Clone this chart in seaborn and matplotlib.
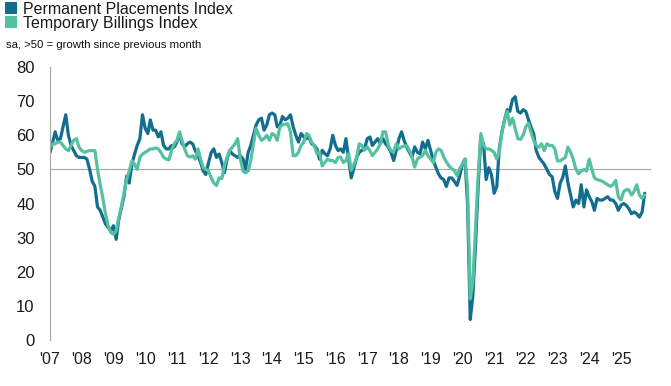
import numpy as np
import pandas as pd
import seaborn as sns
import matplotlib.pyplot as plt
import matplotlib.dates as mdates
from matplotlib.patches import Patch

# monthly index values, Jan 2007 onwards
perm = [
    55, 58, 61, 58.5, 59, 62.5, 66, 60, 57, 55.5, 54, 53.5,            # 2007
    53.5, 53.5, 53, 50, 46.5, 45, 39, 38, 36, 34, 33, 32,              # 2008
    33.5, 29.5, 35, 38.5, 42, 48, 46, 51.5, 54.5, 57, 59, 66,          # 2009
    62, 60.5, 64.5, 61.5, 61.5, 59.5, 61, 57, 56, 56, 57, 56.5,        # 2010
    58, 60.5, 57.5, 56.6, 57.5, 58, 57.5, 55.5, 54, 52, 49.5, 48.5,    # 2011
    52, 55, 56, 53.5, 54.5, 52, 49, 53, 55.5, 54.5, 54, 53.5,          # 2012
    54, 53, 50, 55, 57, 60, 63, 64.5, 65, 61.5, 63, 66,                # 2013
    66.5, 66, 62.5, 63, 65.5, 64.5, 65, 66, 62.5, 60, 58, 60.5,        # 2014
    59.5, 59, 59.5, 57.5, 57, 56, 53, 55.6, 54.6, 54, 56, 60,          # 2015
    57, 55.5, 56, 55, 59, 53, 47.5, 50.5, 53.5, 55, 55.6, 56,          # 2016
    59, 59.5, 57, 58, 59, 57.5, 59, 57.5, 56.5, 55, 52.6, 55.5,        # 2017
    59, 61, 58.5, 56.5, 55, 53.6, 56.6, 55, 54.6, 58, 56, 58.5,        # 2018
    55.6, 52.6, 50.7, 48.7, 47.5, 47, 45, 47.5, 47.5, 46.5, 45.3, 48,  # 2019
    51.5, 53, 40, 6, 13, 28, 45, 59.5, 57.5, 47, 50.5, 48.5,           # 2020
    43, 45, 56, 61, 64.5, 67.5, 67, 70.5, 71.3, 67, 66.5, 67.5,        # 2021
    67, 64.5, 62.5, 60.5, 55.5, 53.5, 52.5, 51.5, 50, 48.5, 47.8, 43.5,  # 2022
    41.5, 46, 47.5, 51, 46, 42.5, 39, 41, 40, 45.5, 39, 44,            # 2023
    42, 40.5, 38, 41.5, 41, 41, 41.5, 42, 41, 41, 40, 38,              # 2024
    39.5, 40, 39.5, 38.5, 37, 37.5, 37, 36, 37.5, 43,                  # 2025
]
temp = [
    56.5, 57.5, 57.5, 58, 58, 57, 56, 55.5, 57, 58.5, 59, 56.5,        # 2007
    55.5, 55, 55.3, 55.5, 55.5, 55.5, 50, 45.5, 41.5, 37, 33.5, 31.5,  # 2008
    31, 32, 35.5, 39, 43, 47, 49.5, 52.5, 51.5, 50, 53.5, 54.5,        # 2009
    55, 55.5, 56, 56, 56.3, 56, 55, 53.5, 53, 52.8, 55.5, 57.5,        # 2010
    58.5, 61, 58.5, 56, 54, 53.6, 54, 53, 56, 53, 50.5, 50,            # 2011
    49.5, 47.5, 46, 45.3, 47.5, 47.3, 51, 53.6, 55.6, 56.5, 57.5, 59,  # 2012
    53, 49.5, 49, 49.5, 52.6, 57.5, 62, 60, 58.5, 59, 60, 58.5,        # 2013
    60.5, 60, 58.5, 62.5, 63, 63.2, 63.4, 61, 54, 54, 55, 57,          # 2014
    58, 60.5, 60, 58, 57, 54.6, 55, 51, 52, 53, 52.6, 52.6,            # 2015
    52, 53.5, 53.6, 52, 52.6, 54.6, 49.7, 51.5, 53.5, 57.5, 57, 55.6,  # 2016
    56.6, 55.5, 54, 55, 56, 57.5, 61, 61, 57, 55.5, 55, 57.5,          # 2017
    56, 56.6, 56.8, 57, 55.6, 53.6, 50.7, 53, 53.6, 54, 55.6, 54,      # 2018
    53, 52, 55, 56, 55.6, 53.6, 52.2, 51, 50.2, 49.7, 48.2, 50.2,      # 2019
    51.5, 53, 45, 12, 17, 33, 48, 60.5, 57, 56, 56, 55.6,              # 2020
    55, 53, 55, 61, 64.5, 67, 63, 65, 62, 59, 58.8, 60,                # 2021
    62.5, 63.5, 61, 58.5, 57, 56.5, 57.5, 55.5, 57.5, 57, 57, 56,      # 2022
    52.5, 52.5, 53, 53.5, 56.5, 55, 53, 50, 48.7, 49.5, 50, 49.5,      # 2023
    53, 50, 47.5, 47, 46.8, 46.5, 46, 45.5, 45, 45.5, 46.8, 42,        # 2024
    41, 43.5, 44, 44, 42.5, 43.5, 45.5, 42.5, 41.5, 42.5,              # 2025
]
series_names = ['Permanent Placements Index', 'Temporary Billings Index']
colors = ['#136d8e', '#55c1a1']
years = list(range(2007, 2026))
year_labels = ["'" + str(y)[2:] for y in years]

dates = pd.date_range('2007-01-01', periods=len(perm), freq='MS')
df = pd.DataFrame({'date': dates, series_names[0]: perm, series_names[1]: temp})
long = df.melt(id_vars='date', var_name='series', value_name='value')

sns.set_style('white')
plt.rcParams['font.family'] = ['Liberation Sans', 'DejaVu Sans']

fig = plt.figure(figsize=(6.71, 3.86), dpi=100)
ax = fig.add_axes([50 / 671, 1 - 340 / 386, 600 / 671, 273 / 386])

sns.lineplot(data=long, x='date', y='value', hue='series', hue_order=series_names,
             palette=colors, linewidth=2.3, legend=False, ax=ax)

ax.set_ylim(0, 80)
ax.set_xlim(pd.Timestamp('2007-01-01'), pd.Timestamp('2025-12-01'))
ax.set_yticks(range(0, 81, 10))
ax.set_xlabel('')
ax.set_ylabel('')

grey = '#a6a6a6'
for s in ['top', 'right']:
    ax.spines[s].set_visible(False)
ax.spines['left'].set_color(grey)
ax.spines['bottom'].set_color(grey)
ax.spines['bottom'].set_position(('data', 50))
ax.spines['bottom'].set_zorder(0)

tick_pos = mdates.date2num([pd.Timestamp(f'{y}-01-01') for y in years])
ax.set_xticks(tick_pos)
ax.tick_params(axis='x', direction='out', length=4, width=1, color=grey, labelbottom=False)
ax.tick_params(axis='y', direction='out', length=5, width=1, color=grey,
               labelsize=12, labelcolor='#1a1a1a', pad=6)

sec = ax.secondary_xaxis(0.0)
sec.set_xticks(tick_pos, labels=year_labels)
sec.tick_params(length=0, pad=9, labelsize=11.5, labelcolor='#1a1a1a')
sec.spines['bottom'].set_visible(False)

handles = [Patch(facecolor=c, edgecolor='none') for c in colors]
fig.legend(handles, series_names, loc='upper left', bbox_to_anchor=(-0.009, 1.025),
           frameon=False, fontsize=11.5, handlelength=0.75, handleheight=0.75,
           handletextpad=0.35, labelspacing=-0.05, borderaxespad=0.3,
           labelcolor='#1a1a1a')
fig.text(0.009, 1 - 45 / 386, 'sa, >50 = growth since previous month',
         fontsize=8.2, color='#111111', va='center')

plt.savefig('out.png', dpi=100)
